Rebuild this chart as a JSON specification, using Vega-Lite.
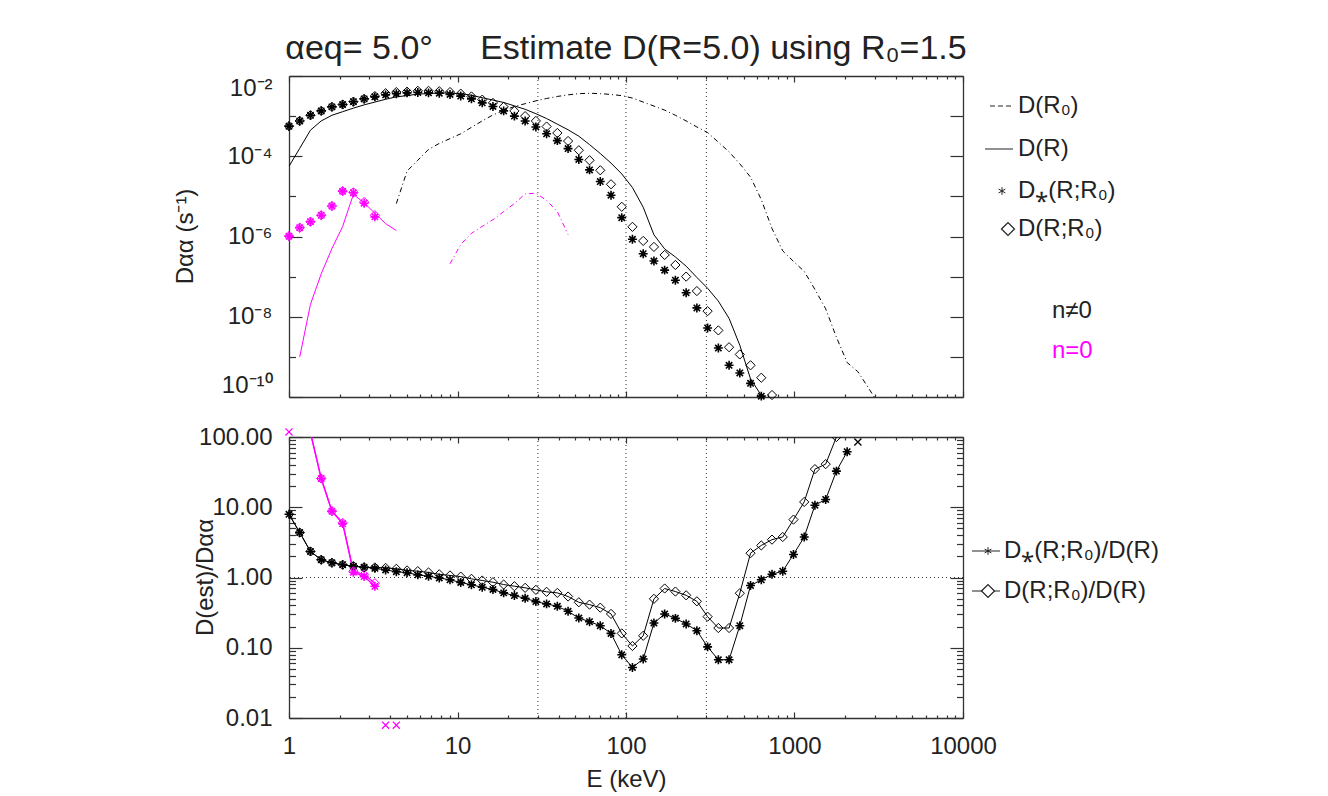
{
  "$schema": "https://vega.github.io/schema/vega-lite/v6.json",
  "background": "white",
  "padding": {"left": 173, "top": 32, "right": 5, "bottom": 5},
  "config": {
    "view": {"stroke": null},
    "font": "Liberation Sans",
    "axis": {"labelFont": "Liberation Sans", "labelFontSize": 24, "labelColor": "#222", "titleFont": "Liberation Sans", "titleFontSize": 24, "titleFontWeight": "normal", "titleColor": "#222", "domainColor": "#333", "tickColor": "#333", "domainWidth": 1.3, "tickWidth": 1.2, "grid": false, "labelOverlap": false, "labelBound": false}
  },
  "datasets": {
    "tS": [{"E":1,"D":5.62e-4},{"E":1.158,"D":7.59e-4},{"E":1.341,"D":1.05e-3},{"E":1.553,"D":1.35e-3},{"E":1.798,"D":1.70e-3},{"E":2.082,"D":1.95e-3},{"E":2.411,"D":2.29e-3},{"E":2.792,"D":2.69e-3},{"E":3.233,"D":3.02e-3},{"E":3.744,"D":3.39e-3},{"E":4.335,"D":3.63e-3},{"E":5.02,"D":3.80e-3},{"E":5.813,"D":3.89e-3},{"E":6.731,"D":3.80e-3},{"E":7.795,"D":3.72e-3},{"E":9.026,"D":3.47e-3},{"E":10.45,"D":3.16e-3},{"E":12.1,"D":2.69e-3},{"E":14.02,"D":2.14e-3},{"E":16.23,"D":1.74e-3},{"E":18.79,"D":1.35e-3},{"E":21.76,"D":1.00e-3},{"E":25.2,"D":7.59e-4},{"E":29.18,"D":5.37e-4},{"E":33.79,"D":3.63e-4},{"E":39.13,"D":2.45e-4},{"E":45.31,"D":1.55e-4},{"E":52.47,"D":8.32e-5},{"E":60.76,"D":4.57e-5},{"E":70.36,"D":2.34e-5},{"E":81.47,"D":1.07e-5},{"E":94.34,"D":2.95e-6},{"E":109.2,"D":8.51e-7},{"E":126.5,"D":3.72e-7},{"E":146.5,"D":2.45e-7},{"E":169.6,"D":1.45e-7},{"E":196.4,"D":8.13e-8},{"E":227.5,"D":3.98e-8},{"E":263.4,"D":1.66e-8},{"E":305,"D":5.25e-9},{"E":353.2,"D":1.66e-9},{"E":409,"D":6.17e-10},{"E":473.6,"D":3.98e-10},{"E":548.4,"D":2.19e-10},{"E":635.1,"D":1.05e-10}],
    "tD": [{"E":1,"D":5.62e-4},{"E":1.158,"D":7.59e-4},{"E":1.341,"D":1.05e-3},{"E":1.553,"D":1.35e-3},{"E":1.798,"D":1.70e-3},{"E":2.082,"D":1.95e-3},{"E":2.411,"D":2.29e-3},{"E":2.792,"D":2.69e-3},{"E":3.233,"D":3.16e-3},{"E":3.744,"D":3.72e-3},{"E":4.335,"D":3.98e-3},{"E":5.02,"D":4.07e-3},{"E":5.813,"D":4.27e-3},{"E":6.731,"D":4.27e-3},{"E":7.795,"D":4.17e-3},{"E":9.026,"D":3.98e-3},{"E":10.45,"D":3.63e-3},{"E":12.1,"D":3.09e-3},{"E":14.02,"D":2.57e-3},{"E":16.23,"D":2.14e-3},{"E":18.79,"D":1.70e-3},{"E":21.76,"D":1.35e-3},{"E":25.2,"D":1.00e-3},{"E":29.18,"D":7.59e-4},{"E":33.79,"D":5.50e-4},{"E":39.13,"D":3.80e-4},{"E":45.31,"D":2.40e-4},{"E":52.47,"D":1.41e-4},{"E":60.76,"D":7.94e-5},{"E":70.36,"D":4.47e-5},{"E":81.47,"D":2.00e-5},{"E":94.34,"D":5.50e-6},{"E":109.2,"D":1.74e-6},{"E":126.5,"D":7.76e-7},{"E":146.5,"D":5.50e-7},{"E":169.6,"D":3.47e-7},{"E":196.4,"D":1.95e-7},{"E":227.5,"D":1.00e-7},{"E":263.4,"D":4.37e-8},{"E":305,"D":1.38e-8},{"E":353.2,"D":4.57e-9},{"E":409,"D":1.74e-9},{"E":473.6,"D":1.15e-9},{"E":548.4,"D":6.17e-10},{"E":635.1,"D":3.02e-10},{"E":735.4,"D":1.12e-10}],
    "tR": [{"E":1,"D":5.62e-5},{"E":1.158,"D":1.58e-4},{"E":1.341,"D":4.47e-4},{"E":1.553,"D":7.59e-4},{"E":1.798,"D":1.05e-3},{"E":2.082,"D":1.29e-3},{"E":2.411,"D":1.58e-3},{"E":2.792,"D":1.91e-3},{"E":3.233,"D":2.24e-3},{"E":3.744,"D":2.63e-3},{"E":4.335,"D":3.02e-3},{"E":5.02,"D":3.24e-3},{"E":5.813,"D":3.55e-3},{"E":6.731,"D":3.63e-3},{"E":7.795,"D":3.80e-3},{"E":9.026,"D":3.72e-3},{"E":10.45,"D":3.63e-3},{"E":12.1,"D":3.31e-3},{"E":14.02,"D":2.88e-3},{"E":16.23,"D":2.51e-3},{"E":18.79,"D":2.19e-3},{"E":21.76,"D":1.80e-3},{"E":25.2,"D":1.48e-3},{"E":29.18,"D":1.15e-3},{"E":33.79,"D":8.71e-4},{"E":39.13,"D":6.31e-4},{"E":45.31,"D":4.57e-4},{"E":52.47,"D":3.16e-4},{"E":60.76,"D":1.95e-4},{"E":70.36,"D":1.17e-4},{"E":81.47,"D":6.76e-5},{"E":94.34,"D":3.63e-5},{"E":109.2,"D":1.66e-5},{"E":126.5,"D":5.37e-6},{"E":146.5,"D":1.10e-6},{"E":169.6,"D":4.90e-7},{"E":196.4,"D":3.09e-7},{"E":227.5,"D":1.82e-7},{"E":263.4,"D":9.55e-8},{"E":305,"D":5.13e-8},{"E":353.2,"D":2.45e-8},{"E":409,"D":9.12e-9},{"E":473.6,"D":1.95e-9},{"E":548.4,"D":2.82e-10},{"E":635.1,"D":1.10e-10},{"E":735.4,"D":3.24e-11}],
    "tR0": [{"E":4.335,"D":6.61e-6},{"E":5.02,"D":4.27e-5},{"E":5.813,"D":7.94e-5},{"E":6.731,"D":1.48e-4},{"E":7.795,"D":2.09e-4},{"E":9.026,"D":2.75e-4},{"E":10.45,"D":3.63e-4},{"E":12.1,"D":5.25e-4},{"E":14.02,"D":7.59e-4},{"E":16.23,"D":1.07e-3},{"E":18.79,"D":1.38e-3},{"E":21.76,"D":1.74e-3},{"E":25.2,"D":2.04e-3},{"E":29.18,"D":2.40e-3},{"E":33.79,"D":2.75e-3},{"E":39.13,"D":3.09e-3},{"E":45.31,"D":3.39e-3},{"E":52.47,"D":3.63e-3},{"E":60.76,"D":3.72e-3},{"E":70.36,"D":3.63e-3},{"E":81.47,"D":3.47e-3},{"E":94.34,"D":3.24e-3},{"E":109.2,"D":2.82e-3},{"E":126.5,"D":2.24e-3},{"E":146.5,"D":1.78e-3},{"E":169.6,"D":1.41e-3},{"E":196.4,"D":1.05e-3},{"E":227.5,"D":7.59e-4},{"E":263.4,"D":5.37e-4},{"E":305,"D":3.89e-4},{"E":353.2,"D":2.24e-4},{"E":409,"D":1.29e-4},{"E":473.6,"D":6.46e-5},{"E":548.4,"D":3.02e-5},{"E":635.1,"D":8.32e-6},{"E":735.4,"D":1.58e-6},{"E":851.6,"D":4.37e-7},{"E":986.1,"D":2.40e-7},{"E":1142,"D":1.35e-7},{"E":1322,"D":4.79e-8},{"E":1531,"D":1.58e-8},{"E":1773,"D":3.09e-9},{"E":2053,"D":7.24e-10},{"E":2378,"D":4.27e-10},{"E":2753,"D":1.66e-10},{"E":3188,"D":6.31e-11}],
    "tSm": [{"E":1,"D":1.02e-6},{"E":1.158,"D":1.66e-6},{"E":1.341,"D":2.34e-6},{"E":1.553,"D":3.39e-6},{"E":1.798,"D":5.75e-6},{"E":2.082,"D":1.35e-5},{"E":2.411,"D":1.23e-5},{"E":2.792,"D":6.76e-6},{"E":3.233,"D":3.09e-6}],
    "tDm": [{"E":1,"D":1.02e-6},{"E":1.158,"D":1.66e-6},{"E":1.341,"D":2.34e-6},{"E":1.553,"D":3.39e-6},{"E":1.798,"D":5.75e-6},{"E":2.082,"D":1.35e-5},{"E":2.411,"D":1.26e-5},{"E":2.792,"D":7.24e-6},{"E":3.233,"D":3.39e-6}],
    "tRm": [{"E":1.158,"D":1.0e-9},{"E":1.341,"D":2.04e-8},{"E":1.553,"D":1.17e-7},{"E":1.798,"D":5.01e-7},{"E":2.082,"D":1.78e-6},{"E":2.411,"D":1.12e-5},{"E":2.792,"D":6.92e-6},{"E":3.233,"D":3.80e-6},{"E":3.744,"D":2.09e-6},{"E":4.335,"D":1.41e-6}],
    "tR0m": [{"E":9.026,"D":2.09e-7},{"E":10.45,"D":6.31e-7},{"E":12.1,"D":1.20e-6},{"E":14.02,"D":1.78e-6},{"E":16.23,"D":2.63e-6},{"E":18.79,"D":4.17e-6},{"E":21.76,"D":6.61e-6},{"E":25.2,"D":1.15e-5},{"E":29.18,"D":1.20e-5},{"E":33.79,"D":7.94e-6},{"E":39.13,"D":4.17e-6},{"E":45.31,"D":1.12e-6}],
    "bS": [{"E":1,"ratio":7.94},{"E":1.158,"ratio":4.36},{"E":1.341,"ratio":2.35},{"E":1.553,"ratio":1.79},{"E":1.798,"ratio":1.62},{"E":2.082,"ratio":1.52},{"E":2.411,"ratio":1.45},{"E":2.792,"ratio":1.40},{"E":3.233,"ratio":1.35},{"E":3.744,"ratio":1.28},{"E":4.335,"ratio":1.21},{"E":5.02,"ratio":1.17},{"E":5.813,"ratio":1.09},{"E":6.731,"ratio":1.04},{"E":7.795,"ratio":0.984},{"E":9.026,"ratio":0.927},{"E":10.45,"ratio":0.849},{"E":12.1,"ratio":0.787},{"E":14.02,"ratio":0.726},{"E":16.23,"ratio":0.675},{"E":18.79,"ratio":0.604},{"E":21.76,"ratio":0.553},{"E":25.2,"ratio":0.506},{"E":29.18,"ratio":0.454},{"E":33.79,"ratio":0.421},{"E":39.13,"ratio":0.389},{"E":45.31,"ratio":0.330},{"E":52.47,"ratio":0.265},{"E":60.76,"ratio":0.235},{"E":70.36,"ratio":0.206},{"E":81.47,"ratio":0.160},{"E":94.34,"ratio":0.0794},{"E":109.2,"ratio":0.0524},{"E":126.5,"ratio":0.0690},{"E":146.5,"ratio":0.225},{"E":169.6,"ratio":0.303},{"E":196.4,"ratio":0.262},{"E":227.5,"ratio":0.218},{"E":263.4,"ratio":0.175},{"E":305,"ratio":0.103},{"E":353.2,"ratio":0.0675},{"E":409,"ratio":0.0675},{"E":473.6,"ratio":0.206},{"E":548.4,"ratio":0.769},{"E":635.1,"ratio":0.927},{"E":735.4,"ratio":1.11},{"E":851.6,"ratio":1.23},{"E":986.1,"ratio":2.13},{"E":1142,"ratio":3.77},{"E":1322,"ratio":10.7},{"E":1531,"ratio":12.9},{"E":1773,"ratio":32.7},{"E":2053,"ratio":61.7}],
    "bD": [{"E":1,"ratio":7.94},{"E":1.158,"ratio":4.36},{"E":1.341,"ratio":2.35},{"E":1.553,"ratio":1.79},{"E":1.798,"ratio":1.62},{"E":2.082,"ratio":1.52},{"E":2.411,"ratio":1.45},{"E":2.792,"ratio":1.40},{"E":3.233,"ratio":1.39},{"E":3.744,"ratio":1.37},{"E":4.335,"ratio":1.33},{"E":5.02,"ratio":1.26},{"E":5.813,"ratio":1.23},{"E":6.731,"ratio":1.18},{"E":7.795,"ratio":1.11},{"E":9.026,"ratio":1.07},{"E":10.45,"ratio":1.03},{"E":12.1,"ratio":0.957},{"E":14.02,"ratio":0.906},{"E":16.23,"ratio":0.857},{"E":18.79,"ratio":0.794},{"E":21.76,"ratio":0.752},{"E":25.2,"ratio":0.713},{"E":29.18,"ratio":0.667},{"E":33.79,"ratio":0.625},{"E":39.13,"ratio":0.604},{"E":45.31,"ratio":0.536},{"E":52.47,"ratio":0.444},{"E":60.76,"ratio":0.411},{"E":70.36,"ratio":0.372},{"E":81.47,"ratio":0.303},{"E":94.34,"ratio":0.160},{"E":109.2,"ratio":0.106},{"E":126.5,"ratio":0.148},{"E":146.5,"ratio":0.497},{"E":169.6,"ratio":0.697},{"E":196.4,"ratio":0.631},{"E":227.5,"ratio":0.558},{"E":263.4,"ratio":0.458},{"E":305,"ratio":0.277},{"E":353.2,"ratio":0.191},{"E":409,"ratio":0.191},{"E":473.6,"ratio":0.597},{"E":548.4,"ratio":2.22},{"E":635.1,"ratio":2.86},{"E":735.4,"ratio":3.46},{"E":851.6,"ratio":3.77},{"E":986.1,"ratio":6.67},{"E":1142,"ratio":11.9},{"E":1322,"ratio":34.9},{"E":1531,"ratio":41.1},{"E":1773,"ratio":100}],
    "bSm": [{"E":1.341,"ratio":115},{"E":1.553,"ratio":25.7},{"E":1.798,"ratio":8.8},{"E":2.082,"ratio":5.85},{"E":2.411,"ratio":1.19},{"E":2.792,"ratio":1.03},{"E":3.233,"ratio":0.75}],
    "bDm": [{"E":1.341,"ratio":115},{"E":1.553,"ratio":25.7},{"E":1.798,"ratio":8.8},{"E":2.082,"ratio":6.0},{"E":2.411,"ratio":1.23},{"E":2.792,"ratio":1.10},{"E":3.233,"ratio":0.83}],
    "bX": [{"E":1,"ratio":118,"n":"n=0"},{"E":3.744,"ratio":0.0079,"n":"n=0"},{"E":4.335,"ratio":0.0079,"n":"n=0"},{"E":2378,"ratio":84.9,"n":"n≠0"}]
  },
  "columns": 2,
  "align": "each",
  "bounds": "flush",
  "spacing": {"row": 40, "column": 0},
  "concat": [
    {
      "width": 674, "height": 321,
      "title": {"text": "αeq= 5.0°\u00a0\u00a0\u00a0\u00a0\u00a0Estimate D(R=5.0) using R₀=1.5", "fontSize": 34, "fontWeight": "normal", "font": "Liberation Sans", "color": "#222", "offset": 9, "anchor": "middle"},
      "resolve": {"axis": {"x": "independent", "y": "independent"}},
      "layer": [
        {"layer": [
          {"data": {"values": [{"E":30},{"E":100},{"E":300}]},
           "mark": {"type": "rule", "strokeDash": [1,3], "color": "#333", "strokeWidth": 1},
           "encoding": {"x": {"field": "E", "type": "quantitative", "scale": {"type": "log", "domain": [1,10000], "nice": false},
             "axis": {"values": [1,2,3,4,5,6,7,8,9,10,20,30,40,50,60,70,80,90,100,200,300,400,500,600,700,800,900,1000,2000,3000,4000,5000,6000,7000,8000,9000,10000], "labels": false, "title": null, "labelFlush": false,
               "tickSize": {"condition": {"test": "indexof([1,10,100,1000,10000], datum.value) >= 0", "value": -6}, "value": -3}}}}},
          {"data": {"name": "tR"}, "mark": {"type": "line", "color": "#000", "strokeWidth": 1, "clip": true},
           "encoding": {"x": {"field": "E", "type": "quantitative"},
             "y": {"field": "D", "type": "quantitative", "scale": {"type": "log", "domain": [1e-10, 1e-2], "nice": false},
               "axis": {"values": [1e-10,1e-9,1e-8,1e-7,1e-6,1e-5,1e-4,1e-3,1e-2],
                 "labelExpr": "round(log(datum.value)/LN10) == -2 ? '10⁻²' : round(log(datum.value)/LN10) == -4 ? '10⁻⁴' : round(log(datum.value)/LN10) == -6 ? '10⁻⁶' : round(log(datum.value)/LN10) == -8 ? '10⁻⁸' : round(log(datum.value)/LN10) == -10 ? '10⁻¹⁰' : ''",
                 "labelFlush": true, "labelPadding": 30,
                 "tickSize": {"condition": {"test": "round(log(datum.value)/LN10) % 2 == 0", "value": -13}, "value": -6.5},
                 "title": "Dαα (s⁻¹)", "titleX": -104, "titleY": 160, "titleBaseline": "middle"}}}},
          {"data": {"name": "tR0"}, "mark": {"type": "line", "color": "#000", "strokeWidth": 1, "strokeDash": [5,3,1,3], "clip": true},
           "encoding": {"x": {"field": "E", "type": "quantitative"}, "y": {"field": "D", "type": "quantitative"}}},
          {"data": {"name": "tRm"}, "mark": {"type": "line", "color": "#ff00ff", "strokeWidth": 1, "clip": true},
           "encoding": {"x": {"field": "E", "type": "quantitative"}, "y": {"field": "D", "type": "quantitative"}}},
          {"data": {"name": "tR0m"}, "mark": {"type": "line", "color": "#ff00ff", "strokeWidth": 1, "strokeDash": [5,3,1,3], "clip": true},
           "encoding": {"x": {"field": "E", "type": "quantitative"}, "y": {"field": "D", "type": "quantitative"}}},
          {"data": {"name": "tD"}, "mark": {"type": "point", "shape": "diamond", "filled": false, "color": "#000", "strokeWidth": 1, "size": 85, "opacity": 1},
           "encoding": {"x": {"field": "E", "type": "quantitative"}, "y": {"field": "D", "type": "quantitative"}}},
          {"data": {"name": "tS"}, "mark": {"type": "point", "shape": "M-1,0L1,0M0,-1L0,1M-0.71,-0.71L0.71,0.71M-0.71,0.71L0.71,-0.71", "filled": false, "color": "#000", "strokeWidth": 1.6, "size": 80, "opacity": 1},
           "encoding": {"x": {"field": "E", "type": "quantitative"}, "y": {"field": "D", "type": "quantitative"}}},
          {"data": {"name": "tDm"}, "mark": {"type": "point", "shape": "diamond", "filled": false, "color": "#ff00ff", "strokeWidth": 1, "size": 85, "opacity": 1},
           "encoding": {"x": {"field": "E", "type": "quantitative"}, "y": {"field": "D", "type": "quantitative"}}},
          {"data": {"name": "tSm"}, "mark": {"type": "point", "shape": "M-1,0L1,0M0,-1L0,1M-0.71,-0.71L0.71,0.71M-0.71,0.71L0.71,-0.71", "filled": false, "color": "#ff00ff", "strokeWidth": 1.6, "size": 80, "opacity": 1},
           "encoding": {"x": {"field": "E", "type": "quantitative"}, "y": {"field": "D", "type": "quantitative"}}}
        ]},
        {"data": {"name": "tR"}, "mark": {"type": "point", "opacity": 0},
         "encoding": {
           "x": {"field": "E", "type": "quantitative", "scale": {"type": "log", "domain": [1,10000], "nice": false},
             "axis": {"orient": "top", "values": [1,2,3,4,5,6,7,8,9,10,20,30,40,50,60,70,80,90,100,200,300,400,500,600,700,800,900,1000,2000,3000,4000,5000,6000,7000,8000,9000,10000], "labels": false, "title": null,
               "tickSize": {"condition": {"test": "indexof([1,10,100,1000,10000], datum.value) >= 0", "value": -6}, "value": -3}}},
           "y": {"field": "D", "type": "quantitative", "scale": {"type": "log", "domain": [1e-10, 1e-2], "nice": false},
             "axis": {"orient": "right", "values": [1e-10,1e-9,1e-8,1e-7,1e-6,1e-5,1e-4,1e-3,1e-2], "labels": false, "title": null, "tickSize": -13}}}}
      ]
    },
    {
      "width": 240, "height": 321,
      "layer": [
        {"data": {"values": [{}]}, "mark": {"type": "rule", "color": "#222", "strokeWidth": 1, "strokeDash": [5,3]},
         "encoding": {"x": {"datum": 27, "type": "quantitative", "scale": {"domain": [0,240], "nice": false, "zero": false}, "axis": null}, "x2": {"datum": 49},
           "y": {"datum": 30, "type": "quantitative", "scale": {"domain": [0,321], "nice": false, "zero": false, "reverse": true}, "axis": null}}},
        {"data": {"values": [{}]}, "mark": {"type": "rule", "color": "#222", "strokeWidth": 1},
         "encoding": {"x": {"datum": 22, "type": "quantitative"}, "x2": {"datum": 50}, "y": {"datum": 73, "type": "quantitative"}}},
        {"data": {"values": [{}]}, "mark": {"type": "point", "shape": "M0,-1L0,1M-0.87,-0.5L0.87,0.5M-0.87,0.5L0.87,-0.5", "filled": false, "color": "#222", "strokeWidth": 1, "size": 60, "opacity": 1},
         "encoding": {"x": {"datum": 39, "type": "quantitative"}, "y": {"datum": 115, "type": "quantitative"}}},
        {"data": {"values": [{}]}, "mark": {"type": "point", "shape": "diamond", "filled": false, "color": "#222", "strokeWidth": 1.2, "size": 170, "opacity": 1},
         "encoding": {"x": {"datum": 45, "type": "quantitative"}, "y": {"datum": 153, "type": "quantitative"}}},
        {"data": {"values": [{}]}, "mark": {"type": "text", "align": "left", "baseline": "middle", "fontSize": 24, "font": "Liberation Sans", "color": "#222"},
         "encoding": {"x": {"datum": 55, "type": "quantitative"}, "y": {"datum": 30, "type": "quantitative"}, "text": {"value": "D(R₀)"}}},
        {"data": {"values": [{}]}, "mark": {"type": "text", "align": "left", "baseline": "middle", "fontSize": 24, "font": "Liberation Sans", "color": "#222"},
         "encoding": {"x": {"datum": 55, "type": "quantitative"}, "y": {"datum": 73, "type": "quantitative"}, "text": {"value": "D(R)"}}},
        {"data": {"values": [{}]}, "mark": {"type": "text", "align": "left", "baseline": "middle", "fontSize": 24, "font": "Liberation Sans", "color": "#222"},
         "encoding": {"x": {"datum": 55, "type": "quantitative"}, "y": {"datum": 115, "type": "quantitative"}, "text": {"value": "D⁎(R;R₀)"}}},
        {"data": {"values": [{}]}, "mark": {"type": "text", "align": "left", "baseline": "middle", "fontSize": 24, "font": "Liberation Sans", "color": "#222"},
         "encoding": {"x": {"datum": 55, "type": "quantitative"}, "y": {"datum": 153, "type": "quantitative"}, "text": {"value": "D(R;R₀)"}}},
        {"data": {"values": [{}]}, "mark": {"type": "text", "align": "left", "baseline": "middle", "fontSize": 24, "font": "Liberation Sans", "color": "#222"},
         "encoding": {"x": {"datum": 89, "type": "quantitative"}, "y": {"datum": 235, "type": "quantitative"}, "text": {"value": "n≠0"}}},
        {"data": {"values": [{}]}, "mark": {"type": "text", "align": "left", "baseline": "middle", "fontSize": 24, "font": "Liberation Sans", "color": "#ff00ff"},
         "encoding": {"x": {"datum": 89, "type": "quantitative"}, "y": {"datum": 275, "type": "quantitative"}, "text": {"value": "n=0"}}}
      ]
    },
    {
      "width": 674, "height": 281,
      "resolve": {"axis": {"x": "independent", "y": "independent"}},
      "layer": [
        {"layer": [
          {"data": {"values": [{"E":30},{"E":100},{"E":300}]},
           "mark": {"type": "rule", "strokeDash": [1,3], "color": "#333", "strokeWidth": 1},
           "encoding": {"x": {"field": "E", "type": "quantitative", "scale": {"type": "log", "domain": [1,10000], "nice": false},
             "axis": {"values": [1,2,3,4,5,6,7,8,9,10,20,30,40,50,60,70,80,90,100,200,300,400,500,600,700,800,900,1000,2000,3000,4000,5000,6000,7000,8000,9000,10000],
               "labelExpr": "indexof([1,10,100,1000,10000], datum.value) >= 0 ? format(datum.value, 'd') : ''",
               "labelFlush": false, "labelPadding": 22, "title": "E (keV)", "titlePadding": 6,
               "tickSize": {"condition": {"test": "indexof([1,10,100,1000,10000], datum.value) >= 0", "value": -6}, "value": -3}}}}},
          {"data": {"values": [{"ratio":1}]},
           "mark": {"type": "rule", "strokeDash": [1,3], "color": "#333", "strokeWidth": 1},
           "encoding": {"y": {"field": "ratio", "type": "quantitative", "scale": {"type": "log", "domain": [0.01, 100], "nice": false},
             "axis": {"values": [0.01,0.02,0.03,0.04,0.05,0.06,0.07,0.08,0.09,0.1,0.2,0.3,0.4,0.5,0.6,0.7,0.8,0.9,1,2,3,4,5,6,7,8,9,10,20,30,40,50,60,70,80,90,100],
               "labelExpr": "indexof([0.01,0.1,1,10,100], datum.value) >= 0 ? format(datum.value, '.2f') : ''",
               "labelPadding": 30, "labelFlush": false,
               "tickSize": {"condition": {"test": "indexof([0.01,0.1,1,10,100], datum.value) >= 0", "value": -13}, "value": -6.5},
               "title": "D(est)/Dαα", "titleX": -84, "titleY": 140, "titleBaseline": "middle"}}}},
          {"data": {"name": "bS"}, "mark": {"type": "line", "color": "#000", "strokeWidth": 1, "clip": true},
           "encoding": {"x": {"field": "E", "type": "quantitative"}, "y": {"field": "ratio", "type": "quantitative"}}},
          {"data": {"name": "bD"}, "mark": {"type": "line", "color": "#000", "strokeWidth": 1, "clip": true},
           "encoding": {"x": {"field": "E", "type": "quantitative"}, "y": {"field": "ratio", "type": "quantitative"}}},
          {"data": {"name": "bSm"}, "mark": {"type": "line", "color": "#ff00ff", "strokeWidth": 1.3, "clip": true},
           "encoding": {"x": {"field": "E", "type": "quantitative"}, "y": {"field": "ratio", "type": "quantitative"}}},
          {"data": {"name": "bDm"}, "mark": {"type": "line", "color": "#ff00ff", "strokeWidth": 1.3, "clip": true},
           "encoding": {"x": {"field": "E", "type": "quantitative"}, "y": {"field": "ratio", "type": "quantitative"}}},
          {"data": {"name": "bD"}, "transform": [{"filter": "datum.ratio <= 101"}], "mark": {"type": "point", "shape": "diamond", "filled": false, "color": "#000", "strokeWidth": 1, "size": 85, "opacity": 1, "clip": true},
           "encoding": {"x": {"field": "E", "type": "quantitative"}, "y": {"field": "ratio", "type": "quantitative"}}},
          {"data": {"name": "bS"}, "transform": [{"filter": "datum.ratio <= 101"}], "mark": {"type": "point", "shape": "M-1,0L1,0M0,-1L0,1M-0.71,-0.71L0.71,0.71M-0.71,0.71L0.71,-0.71", "filled": false, "color": "#000", "strokeWidth": 1.6, "size": 80, "opacity": 1},
           "encoding": {"x": {"field": "E", "type": "quantitative"}, "y": {"field": "ratio", "type": "quantitative"}}},
          {"data": {"name": "bDm"}, "transform": [{"filter": "datum.ratio <= 101"}], "mark": {"type": "point", "shape": "diamond", "filled": false, "color": "#ff00ff", "strokeWidth": 1, "size": 85, "opacity": 1},
           "encoding": {"x": {"field": "E", "type": "quantitative"}, "y": {"field": "ratio", "type": "quantitative"}}},
          {"data": {"name": "bSm"}, "transform": [{"filter": "datum.ratio <= 101"}], "mark": {"type": "point", "shape": "M-1,0L1,0M0,-1L0,1M-0.71,-0.71L0.71,0.71M-0.71,0.71L0.71,-0.71", "filled": false, "color": "#ff00ff", "strokeWidth": 1.6, "size": 80, "opacity": 1},
           "encoding": {"x": {"field": "E", "type": "quantitative"}, "y": {"field": "ratio", "type": "quantitative"}}},
          {"data": {"name": "bX"}, "mark": {"type": "point", "shape": "M-1,-1L1,1M-1,1L1,-1", "filled": false, "strokeWidth": 1.3, "size": 50, "opacity": 1, "clip": false},
           "encoding": {"x": {"field": "E", "type": "quantitative"}, "y": {"field": "ratio", "type": "quantitative"},
             "color": {"field": "n", "type": "nominal", "scale": {"domain": ["n≠0", "n=0"], "range": ["#000000", "#ff00ff"]}, "legend": null}}}
        ]},
        {"data": {"name": "bS"}, "mark": {"type": "point", "opacity": 0},
         "encoding": {
           "x": {"field": "E", "type": "quantitative", "scale": {"type": "log", "domain": [1,10000], "nice": false},
             "axis": {"orient": "top", "values": [1,2,3,4,5,6,7,8,9,10,20,30,40,50,60,70,80,90,100,200,300,400,500,600,700,800,900,1000,2000,3000,4000,5000,6000,7000,8000,9000,10000], "labels": false, "title": null,
               "tickSize": {"condition": {"test": "indexof([1,10,100,1000,10000], datum.value) >= 0", "value": -6}, "value": -3}}},
           "y": {"field": "ratio", "type": "quantitative", "scale": {"type": "log", "domain": [0.01, 100], "nice": false},
             "axis": {"orient": "right", "values": [0.01,0.02,0.03,0.04,0.05,0.06,0.07,0.08,0.09,0.1,0.2,0.3,0.4,0.5,0.6,0.7,0.8,0.9,1,2,3,4,5,6,7,8,9,10,20,30,40,50,60,70,80,90,100], "labels": false, "title": null,
               "tickSize": {"condition": {"test": "indexof([0.01,0.1,1,10,100], datum.value) >= 0", "value": -13}, "value": -6.5}}}}}
      ]
    },
    {
      "width": 240, "height": 281,
      "layer": [
        {"data": {"values": [{}]}, "mark": {"type": "rule", "color": "#222", "strokeWidth": 1},
         "encoding": {"x": {"datum": 9, "type": "quantitative", "scale": {"domain": [0,240], "nice": false, "zero": false}, "axis": null}, "x2": {"datum": 37},
           "y": {"datum": 114, "type": "quantitative", "scale": {"domain": [0,281], "nice": false, "zero": false, "reverse": true}, "axis": null}}},
        {"data": {"values": [{}]}, "mark": {"type": "rule", "color": "#222", "strokeWidth": 1},
         "encoding": {"x": {"datum": 9, "type": "quantitative"}, "x2": {"datum": 37}, "y": {"datum": 154, "type": "quantitative"}}},
        {"data": {"values": [{}]}, "mark": {"type": "point", "shape": "M0,-1L0,1M-0.87,-0.5L0.87,0.5M-0.87,0.5L0.87,-0.5", "filled": false, "color": "#222", "strokeWidth": 1, "size": 60, "opacity": 1},
         "encoding": {"x": {"datum": 25, "type": "quantitative"}, "y": {"datum": 114, "type": "quantitative"}}},
        {"data": {"values": [{}]}, "mark": {"type": "point", "shape": "diamond", "filled": true, "fill": "white", "stroke": "#222", "strokeWidth": 1.2, "size": 170, "opacity": 1},
         "encoding": {"x": {"datum": 25, "type": "quantitative"}, "y": {"datum": 154, "type": "quantitative"}}},
        {"data": {"values": [{}]}, "mark": {"type": "text", "align": "left", "baseline": "middle", "fontSize": 24, "font": "Liberation Sans", "color": "#222"},
         "encoding": {"x": {"datum": 41, "type": "quantitative"}, "y": {"datum": 114, "type": "quantitative"}, "text": {"value": "D⁎(R;R₀)/D(R)"}}},
        {"data": {"values": [{}]}, "mark": {"type": "text", "align": "left", "baseline": "middle", "fontSize": 24, "font": "Liberation Sans", "color": "#222"},
         "encoding": {"x": {"datum": 41, "type": "quantitative"}, "y": {"datum": 154, "type": "quantitative"}, "text": {"value": "D(R;R₀)/D(R)"}}}
      ]
    }
  ]
}
